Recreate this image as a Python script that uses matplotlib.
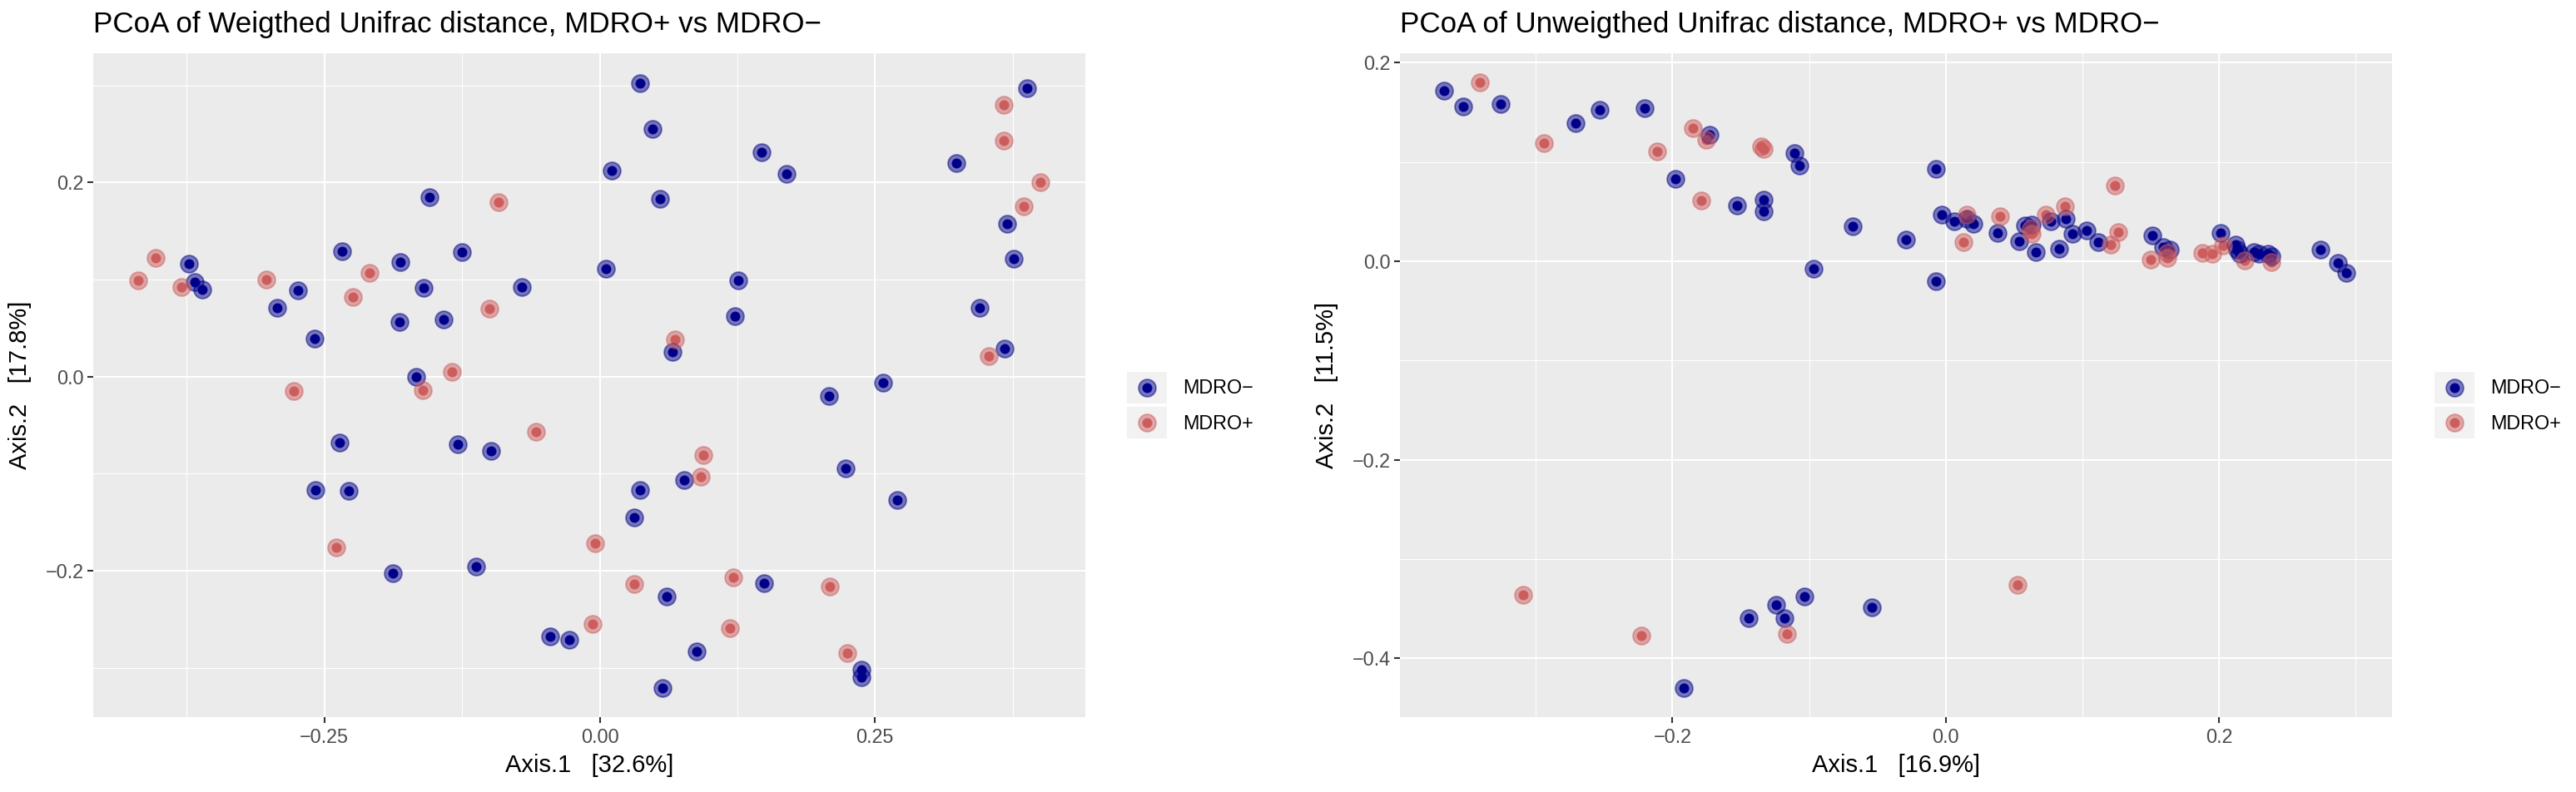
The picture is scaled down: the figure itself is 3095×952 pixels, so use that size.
import matplotlib
matplotlib.use("Agg")
import matplotlib.pyplot as plt
from matplotlib.ticker import MultipleLocator, FuncFormatter
from matplotlib.legend_handler import HandlerBase
from matplotlib.patches import Rectangle
from matplotlib.lines import Line2D

plt.rcParams["font.family"] = ["Liberation Sans", "DejaVu Sans"]

# ---- data ----
groups = ["MDRO\u2212", "MDRO+"]
colors = {"MDRO\u2212": "#00008B", "MDRO+": "#CD5C5C"}

w_neg_x = [0.037, 0.048, 0.011, -0.155, -0.373, -0.368, -0.361, -0.274, -0.293, -0.259,
           -0.234, -0.181, -0.125, -0.160, -0.071, -0.182, -0.142, 0.006, -0.167, -0.236,
           -0.129, -0.099, -0.258, -0.228, -0.188, -0.112, -0.045, -0.028, 0.037, 0.031,
           0.147, 0.170, 0.324, 0.388, 0.370, 0.376, 0.055, 0.126, 0.123, 0.066,
           0.345, 0.368, 0.257, 0.208, 0.077, 0.2235, 0.270, 0.149, 0.061, 0.088,
           0.238, 0.238, 0.057]
w_neg_y = [0.302, 0.255, 0.212, 0.185, 0.116, 0.097, 0.090, 0.089, 0.071, 0.039,
           0.129, 0.118, 0.128, 0.091, 0.092, 0.056, 0.059, 0.111, 0.000, -0.068,
           -0.070, -0.077, -0.117, -0.118, -0.203, -0.196, -0.268, -0.271, -0.117, -0.145,
           0.231, 0.209, 0.220, 0.297, 0.157, 0.121, 0.183, 0.099, 0.062, 0.025,
           0.071, 0.029, -0.006, -0.020, -0.107, -0.095, -0.127, -0.213, -0.227, -0.283,
           -0.302, -0.310, -0.321]
w_pos_x = [-0.092, -0.403, -0.419, -0.380, -0.303, -0.209, -0.224, -0.100, -0.134, -0.161,
           -0.278, -0.058, -0.239, -0.004, -0.0065, 0.031, 0.367, 0.367, 0.400, 0.385,
           0.068, 0.353, 0.094, 0.092, 0.121, 0.209, 0.118, 0.225]
w_pos_y = [0.180, 0.122, 0.099, 0.092, 0.100, 0.107, 0.082, 0.070, 0.005, -0.014,
           -0.015, -0.057, -0.176, -0.172, -0.255, -0.214, 0.280, 0.243, 0.200, 0.175,
           0.038, 0.021, -0.081, -0.103, -0.207, -0.216, -0.259, -0.285]

u_neg_x = [-0.367, -0.353, -0.326, -0.271, -0.253, -0.2205, -0.198, -0.173, -0.153, -0.133,
           -0.133, -0.111, -0.107, -0.097, -0.068, -0.029, -0.007, -0.003, -0.007, 0.006,
           0.0155, 0.020, 0.038, 0.054, 0.058, 0.063, 0.066, 0.077, 0.088, 0.083,
           0.093, 0.103, 0.1115, 0.151, 0.159, 0.164, 0.201, 0.212, 0.213, 0.215,
           0.2255, 0.229, 0.236, 0.238, 0.274, 0.287, 0.293,
           -0.192, -0.144, -0.124, -0.118, -0.1035, -0.054]
u_neg_y = [0.172, 0.156, 0.158, 0.139, 0.1525, 0.154, 0.083, 0.127, 0.056, 0.062,
           0.050, 0.109, 0.096, -0.008, 0.035, 0.022, 0.093, 0.047, -0.020, 0.040,
           0.0425, 0.038, 0.0285, 0.020, 0.036, 0.037, 0.0095, 0.040, 0.0425, 0.0126,
           0.028, 0.031, 0.019, 0.026, 0.014, 0.012, 0.0285, 0.017, 0.012, 0.0075,
           0.009, 0.0075, 0.0075, 0.005, 0.012, -0.002, -0.012,
           -0.430, -0.3595, -0.346, -0.360, -0.338, -0.349]
u_pos_x = [-0.341, -0.294, -0.2115, -0.185, -0.175, -0.179, -0.135, -0.133, 0.0155, 0.013,
           0.0395, 0.062, 0.063, 0.073, 0.087, 0.1205, 0.124, 0.126, 0.150, 0.162,
           0.162, 0.188, 0.195, 0.203, 0.219, 0.238,
           -0.309, -0.223, -0.116, 0.0525]
u_pos_y = [0.180, 0.119, 0.111, 0.134, 0.122, 0.061, 0.1156, 0.113, 0.047, 0.019,
           0.0455, 0.033, 0.028, 0.047, 0.055, 0.017, 0.0765, 0.029, 0.002, 0.0034,
           0.008, 0.008, 0.0075, 0.016, 0.0006, -0.001,
           -0.336, -0.377, -0.376, -0.326]

panels = [
    {
        "title": "PCoA of Weigthed Unifrac distance, MDRO+ vs MDRO\u2212",
        "xlabel": "Axis.1   [32.6%]", "ylabel": "Axis.2   [17.8%]",
        "pts": {"MDRO\u2212": (w_neg_x, w_neg_y), "MDRO+": (w_pos_x, w_pos_y)},
        "xlim": (-0.460, 0.441), "ylim": (-0.351, 0.333),
        "xmaj": 0.25, "ymaj": 0.2, "xfmt": "{:.2f}", "yfmt": "{:.1f}",
    },
    {
        "title": "PCoA of Unweigthed Unifrac distance, MDRO+ vs MDRO\u2212",
        "xlabel": "Axis.1   [16.9%]", "ylabel": "Axis.2   [11.5%]",
        "pts": {"MDRO\u2212": (u_neg_x, u_neg_y), "MDRO+": (u_pos_x, u_pos_y)},
        "xlim": (-0.3995, 0.3264), "ylim": (-0.4595, 0.2095),
        "xmaj": 0.2, "ymaj": 0.2, "xfmt": "{:.1f}", "yfmt": "{:.1f}",
    },
]

OUTER = 15.0   # marker diameters in points
INNER = 8.6


class KeyHandler(HandlerBase):
    # ggplot-like legend key: grey box + translucent big dot + solid small dot
    def create_artists(self, legend, orig_handle, xdescent, ydescent,
                       width, height, fontsize, trans):
        col = orig_handle.get_color()
        bg = Rectangle((-xdescent, -ydescent), width, height,
                       facecolor="#F2F2F2", edgecolor="none", transform=trans)
        cx, cy = width / 2 - xdescent, height / 2 - ydescent
        inner = Line2D([cx], [cy], marker="o", markersize=INNER, linestyle="none",
                       markerfacecolor=col, markeredgecolor="none", transform=trans)
        outer = Line2D([cx], [cy], marker="o", markersize=OUTER, linestyle="none",
                       markerfacecolor=col, markeredgecolor=col, markeredgewidth=1.3,
                       alpha=0.5, transform=trans)
        return [bg, inner, outer]


fig = plt.figure(figsize=(30.95, 9.52), dpi=100)
axes_pos = [[0.0362, 0.0945, 0.3851, 0.8382], [0.5434, 0.0945, 0.3851, 0.8382]]
legend_x = [0.4375, 0.9451]

def fmt_minus(f):
    return FuncFormatter(lambda v, p: f.format(v).replace("-", "\u2212"))

for pos, p, lx in zip(axes_pos, panels, legend_x):
    ax = fig.add_axes(pos)
    ax.set_facecolor("#EBEBEB")
    for s in ax.spines.values():
        s.set_visible(False)
    ax.set_xlim(*p["xlim"])
    ax.set_ylim(*p["ylim"])
    ax.xaxis.set_major_locator(MultipleLocator(p["xmaj"]))
    ax.xaxis.set_minor_locator(MultipleLocator(p["xmaj"] / 2))
    ax.yaxis.set_major_locator(MultipleLocator(p["ymaj"]))
    ax.yaxis.set_minor_locator(MultipleLocator(p["ymaj"] / 2))
    ax.xaxis.set_major_formatter(fmt_minus(p["xfmt"]))
    ax.yaxis.set_major_formatter(fmt_minus(p["yfmt"]))
    ax.grid(which="major", color="white", linewidth=1.5)
    ax.grid(which="minor", color="white", linewidth=0.75)
    ax.set_axisbelow(True)
    ax.tick_params(which="major", length=5, width=1.5, color="#333333",
                   labelsize=16.8, labelcolor="#4D4D4D")
    ax.tick_params(axis="x", which="major", pad=4)
    ax.tick_params(axis="y", which="major", pad=3)
    ax.tick_params(which="minor", length=0)

    # small opaque layer first, then translucent large layer on top
    for g in groups:
        xs, ys = p["pts"][g]
        ax.scatter(xs, ys, s=INNER ** 2, color=colors[g], linewidths=0, zorder=3)
    for g in groups:
        xs, ys = p["pts"][g]
        ax.scatter(xs, ys, s=OUTER ** 2, facecolor=colors[g], edgecolor=colors[g],
                   linewidths=1.3, alpha=0.5, zorder=4)

    ax.set_xlabel(p["xlabel"], fontsize=21, labelpad=6)
    ax.set_ylabel(p["ylabel"], fontsize=21, labelpad=12)
    ax.set_title(p["title"], loc="left", fontsize=25.2, pad=18)

    handles = [Line2D([], [], color=colors[g]) for g in groups]
    fig.legend(handles, groups, loc="center left", bbox_to_anchor=(lx, 0.4884),
               frameon=False, fontsize=16.8, borderpad=0, borderaxespad=0,
               handlelength=2.06, handleheight=2.15, handletextpad=0.8,
               labelspacing=0.17, handler_map={Line2D: KeyHandler()})

fig.savefig("out.png", dpi=100)
